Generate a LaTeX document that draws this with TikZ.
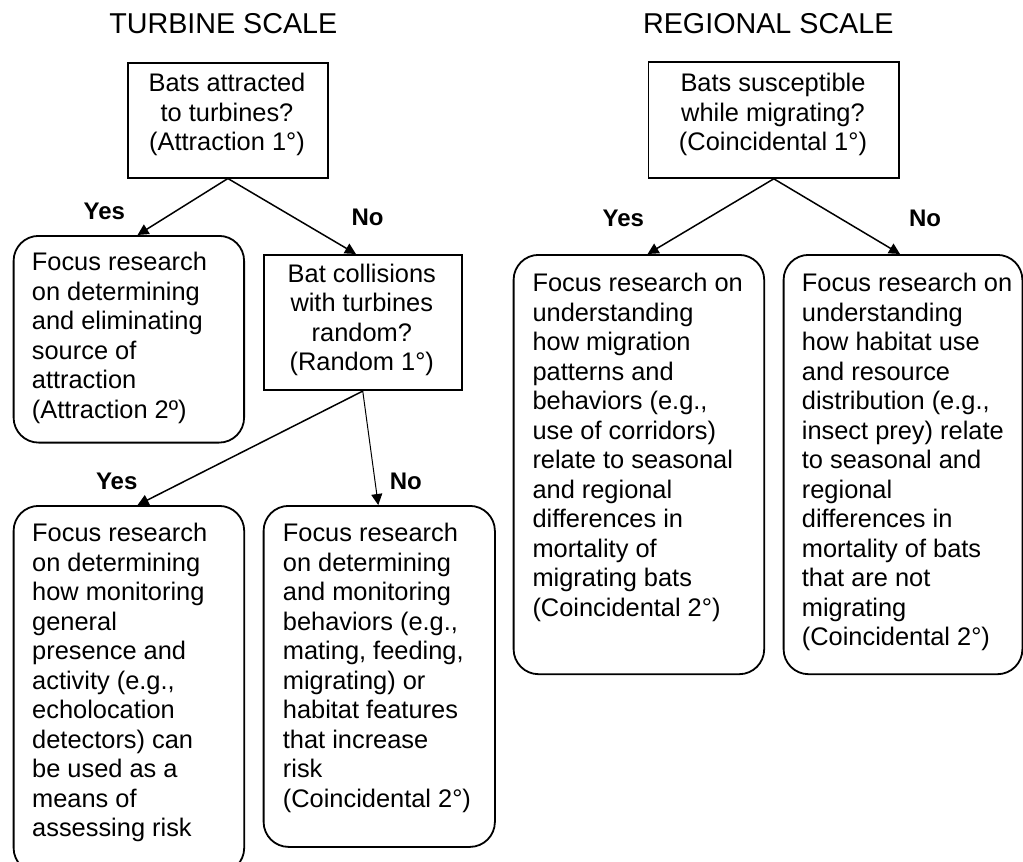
\documentclass[tikz,border=0pt]{standalone}
\usepackage{fontspec}
\setmainfont{Liberation Sans}
\usetikzlibrary{arrows.meta}
\newcommand\lefttxt[2]{\vtop{\hsize=#1pt\relax\raggedright\parindent=0pt\noindent #2}}
\newcommand\centtxt[2]{\vtop{\hsize=#1pt\relax\centering\parindent=0pt\noindent #2}}
\tikzset{
  qbox/.style={draw, line width=1.8pt, inner sep=0pt, anchor=north west},
  rbox/.style={qbox, rounded corners=25pt},
  conn/.style={line width=1.5pt, -{Triangle[length=11pt,width=11pt]}},
  thinconn/.style={conn, line width=1pt},
  lab/.style={font=\fontsize{24}{28}\selectfont\bfseries, anchor=base, inner sep=0pt},
  ttl/.style={font=\fontsize{28.7}{32}\selectfont, anchor=base, inner sep=0pt},
  bodyl/.style={font=\fontsize{25.4}{29.5}\selectfont, anchor=base west, inner sep=0pt},
  bodyc/.style={font=\fontsize{25.4}{29.5}\selectfont, anchor=base, inner sep=0pt},
}
\begin{document}
\begin{tikzpicture}[x=1pt, y=-1pt]
\clip (0,0) rectangle (1023,862);
\fill[white] (0,0) rectangle (1023,862);

% titles
\node[ttl] (tt) at (223.3,33.3) {TURBINE SCALE};
\node[ttl] (rt) at (768.3,33.3) {REGIONAL SCALE};

% boxes
\node[qbox, minimum width=199.4pt, minimum height=115pt] (b1) at (127.3,61.7) {};
\node[rbox, minimum width=230.5pt, minimum height=206.7pt] (a2) at (12.7,235) {};
\node[qbox, minimum width=198.3pt, minimum height=135.3pt] (b2) at (262.7,254) {};
\node[rbox, minimum width=230.6pt, minimum height=367pt] (ll) at (12.7,505) {};
\node[rbox, minimum width=231.3pt, minimum height=341pt] (lm) at (262.7,505) {};
\node[qbox, minimum width=250.8pt, minimum height=116pt] (r1) at (647.5,61) {};
\node[rbox, minimum width=250.6pt, minimum height=419.3pt] (rl) at (512.7,254) {};
\node[rbox, minimum width=238.8pt, minimum height=419.3pt] (rr) at (782.7,254) {};

% texts
\node[bodyc] (t1) at (227,91.7) {\centtxt{200}{Bats attracted\\to turbines?\\(Attraction 1°)}};
\node[bodyc] (t2) at (361.8,282.3) {\centtxt{198}{Bat collisions\\with turbines\\random?\\(Random 1°)}};
\node[bodyc] (t3) at (773,91.7) {\centtxt{250}{Bats susceptible\\while migrating?\\(Coincidental 1°)}};
\node[bodyl] (ta) at (31.7,270.7) {\lefttxt{215}{Focus research\\on determining\\and eliminating\\source of\\attraction\\(Attraction 2º)}};
\node[bodyl] (tl) at (32,541.7) {\lefttxt{215}{Focus research\\on determining\\how monitoring\\general\\presence and\\activity (e.g.,\\echolocation\\detectors) can\\be used as a\\means of\\assessing risk}};
\node[bodyl] (tm) at (282.7,541.7) {\lefttxt{215}{Focus research\\on determining\\and monitoring\\behaviors (e.g.,\\mating, feeding,\\migrating) or\\habitat features\\that increase\\risk\\(Coincidental 2°)}};
\node[bodyl] (trl) at (532.3,291.7) {\lefttxt{235}{Focus research on\\understanding\\how migration\\patterns and\\behaviors (e.g.,\\use of corridors)\\relate to seasonal\\and regional\\differences in\\mortality of\\migrating bats\\(Coincidental 2°)}};
\node[bodyl] (trr) at (801.7,291.7) {\lefttxt{235}{Focus research on\\understanding\\how habitat use\\and resource\\distribution (e.g.,\\insect prey) relate\\to seasonal and\\regional\\differences in\\mortality of bats\\that are not\\migrating\\(Coincidental 2°)}};

% connectors
\draw[conn] (b1.south) -- ([xshift=8.7pt]a2.north);
\draw[conn] (b1.south) -- ([xshift=-6.8pt]b2.north);
\draw[conn] (b2.south) -- ([xshift=8.7pt]ll.north);
\draw[thinconn] (b2.south) -- ([xshift=-1pt]lm.north);
\draw[conn] (r1.south) -- ([xshift=8.7pt]rl.north);
\draw[conn] (r1.south) -- ([xshift=-3pt]rr.north);

% labels
\node[lab] (y1) at (104.3,219.3) {Yes};
\node[lab] (n1) at (367.5,225) {No};
\node[lab] (y2) at (116.7,489.3) {Yes};
\node[lab] (n2) at (405.8,489.3) {No};
\node[lab] (y3) at (623.3,226) {Yes};
\node[lab] (n3) at (925,226) {No};
\end{tikzpicture}
\end{document}
